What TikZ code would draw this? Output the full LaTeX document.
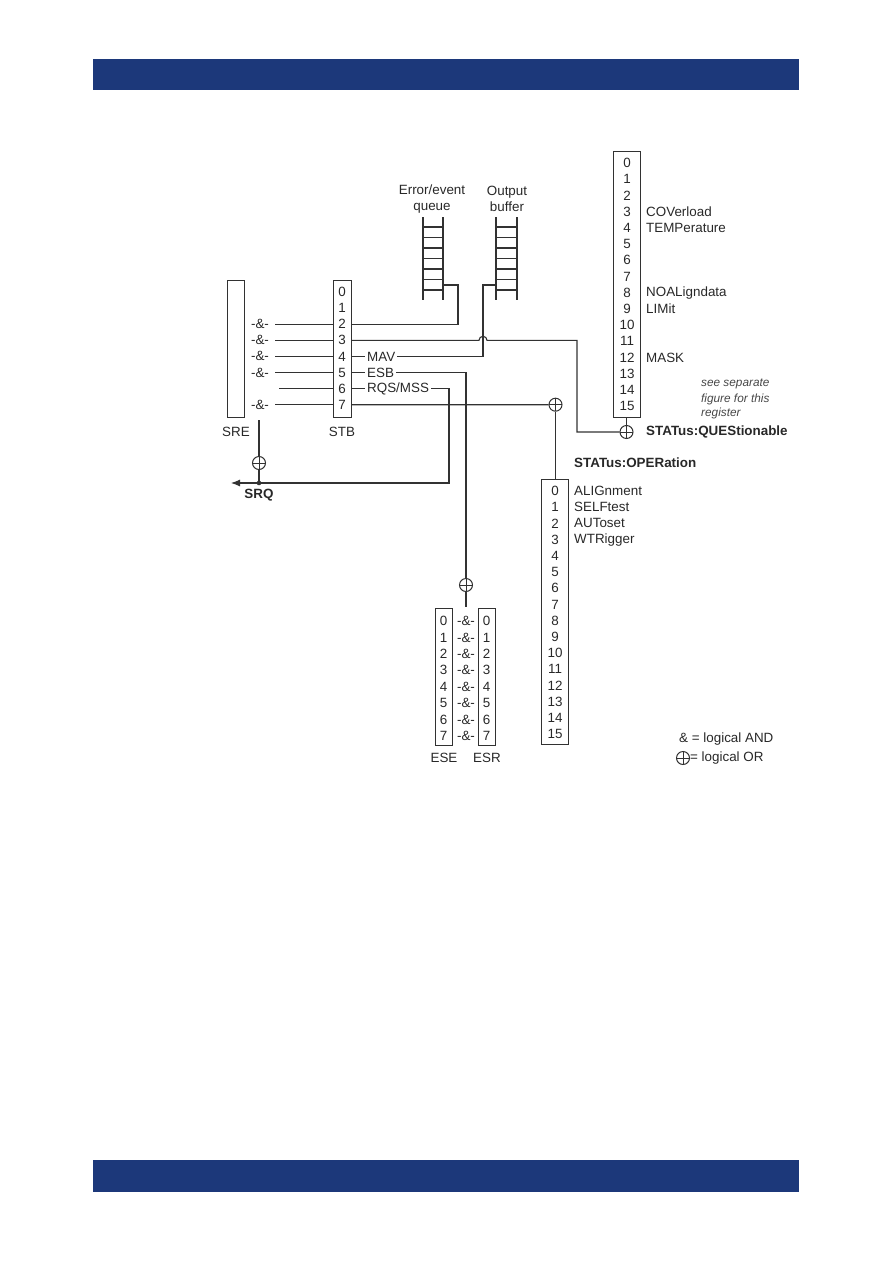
\documentclass[tikz,border=0pt]{standalone}
\usepackage{fontspec}
\setmainfont{Liberation Sans}
\usetikzlibrary{arrows.meta}
\definecolor{rsblue}{RGB}{28,56,122}
\definecolor{ln}{RGB}{50,50,50}
\definecolor{txt}{RGB}{40,40,40}
\definecolor{notec}{RGB}{70,70,70}
\tikzset{
  wire/.style={draw=ln, line width=1.1pt},
  regbox/.style={draw=ln, line width=1.1pt, inner sep=0pt, anchor=north west},
  lbl/.style={inner sep=0pt, text=txt, font=\fontsize{13.4}{16}\selectfont},
  tag/.style={lbl, inner xsep=2pt, anchor=west},
  bl/.style={lbl, font=\fontsize{13.4}{16}\selectfont\bfseries},
  note/.style={lbl, text=notec, anchor=west, font=\fontsize{11.8}{14}\selectfont\itshape},
  orgate/.style={circle, draw=ln, line width=1pt, minimum size=13pt, inner sep=0pt,
    path picture={\draw[ln, line width=0.9pt] (path picture bounding box.north) -- (path picture bounding box.south)
      (path picture bounding box.west) -- (path picture bounding box.east);}},
}
\begin{document}
\begin{tikzpicture}[x=1pt,y=-1pt]
\useasboundingbox (0,0) rectangle (893,1263);
% header and footer bars
\fill[rsblue] (93,59) rectangle (799,90);
\fill[rsblue] (93,1160) rectangle (799,1192);

% ---------- SRE and STB ----------
\node[regbox, minimum width=17pt, minimum height=137pt] (sre) at (227,280) {};
\node[regbox, minimum width=18pt, minimum height=137pt] (stb) at (333,280) {};
\node[lbl] (srelbl) at (236,432) {SRE};
\node[lbl] (stblbl) at (342,432) {STB};
\foreach \i in {0,...,7} {
  \node[lbl] (r\i) at (342,{292+16.1*\i}) {\i};
}
\foreach \i in {2,3,4,5,7} {
  \node[lbl] (and\i) at (260,{292+16.1*\i}) {-\&-};
  \coordinate (sl\i) at (275,{292+16.1*\i});
  \draw[wire] (sl\i) -- (stb.west |- sl\i);
}
\coordinate (sl6) at (279,{292+16.1*6});
\draw[wire] (sl6) -- (stb.west |- sl6);

% ---------- queues ----------
\node[lbl, align=center] (eqlbl) at (432,199) {Error/event\\queue};
\node[lbl, align=center] (oblbl) at (507,199) {Output\\buffer};
\foreach \xa/\xb in {423/443, 496/517} {
  \draw[wire] (\xa,217) -- (\xa,300) (\xb,217) -- (\xb,300);
  \foreach \k in {0,...,6} \draw[wire] (\xa,{227+10.5*\k}) -- (\xb,{227+10.5*\k});
}
\coordinate (eqc) at (443,285);
\coordinate (obc) at (496,285);
\coordinate (eqd) at (458,285);
\coordinate (obd) at (483,285);

% row 2 -> error queue
\draw[wire] (stb.east |- r2) -| (eqd) -- (eqc);
% row 4 MAV -> output buffer
\node[tag] (mav) at (365,{292+16.1*4}) {MAV};
\draw[wire] (stb.east |- r4) -- (mav.west);
\draw[wire] (mav.east) -| (obd) -- (obc);
% QUEStionable register
\node[regbox, minimum width=27pt, minimum height=266pt] (ques) at (613,151) {};
\foreach \i in {0,...,15} \node[lbl] (q\i) at (627,{163+16.2*\i}) {\i};
\node[lbl, anchor=west] (qc) at (646,{163+16.2*3}) {COVerload};
\node[lbl, anchor=west] (qt) at (646,{163+16.2*4}) {TEMPerature};
\node[lbl, anchor=west] (qn) at (646,{163+16.2*8}) {NOALigndata};
\node[lbl, anchor=west] (ql) at (646,{163+16.2*9}) {LIMit};
\node[lbl, anchor=west] (qm) at (646,{163+16.2*12}) {MASK};
\node[note] (n1) at (701,384) {see separate};
\node[note] (n2) at (701,399) {figure for this};
\node[note] (n3) at (701,413) {register};
\node[orgate] (qor) at (626.5,432) {};
\draw[wire] (ques.south -| qor) -- (qor.north);
\node[bl, anchor=west] (qlbl) at (646,432) {STATus:QUEStionable};
% row 3 -> QUEStionable (hop over MAV line)
\draw[wire] (stb.east |- r3) -- (479,340.3) arc (180:360:4) -- (577,340.3) |- (qor.west);

% row 5 ESB -> ESE/ESR
\node[tag] (esb) at (365,{292+16.1*5}) {ESB};
\draw[wire] (stb.east |- r5) -- (esb.west);
\node[orgate] (esbor) at (466,585) {};
\draw[wire] (esb.east) -| (esbor.north);
\coordinate (esetop) at (466,607);
\draw[wire] (esbor.south) -- (esetop);
\node[regbox, minimum width=17pt, minimum height=137pt] (ese) at (435,608) {};
\node[regbox, minimum width=17pt, minimum height=137pt] (esr) at (478,608) {};
\foreach \i in {0,...,7} {
  \node[lbl] (e\i) at (443.5,{621+16.43*\i}) {\i};
  \node[lbl] (a\i) at (466,{621+16.43*\i}) {-\&-};
  \node[lbl] (s\i) at (486.5,{621+16.43*\i}) {\i};
}
\node[lbl] (eselbl) at (444,758) {ESE};
\node[lbl] (esrlbl) at (487,758) {ESR};

% row 6 RQS/MSS -> SRQ
\node[tag] (rqs) at (365,{292+16.1*6}) {RQS/MSS};
\draw[wire] (stb.east |- r6) -- (rqs.west);
\node[orgate] (sreor) at (259,463) {};
\coordinate (srqdot) at (259,483);
\coordinate (srqend) at (231,483);
\coordinate (srqturn) at (449,483);
\coordinate (sreout) at (259,420);
\draw[wire] (sreout) -- (sreor.north);
\draw[wire] (sreor.south) -- (srqdot);
\draw[wire] (rqs.east) -| (srqturn) -- (srqdot);
\draw[wire, -{Latex[length=9pt,width=7pt]}] (srqdot) -- (srqend);
\fill[ln] (srqdot) circle (2.3pt);
\node[bl] (srq) at (259,495) {SRQ};

% row 7 -> OPERation
\node[orgate] (opor) at (555.5,404.7) {};
\draw[wire] (stb.east |- r7) -- (opor.west);
\node[regbox, minimum width=27pt, minimum height=265pt] (oper) at (541,479) {};
\draw[wire] (opor.south) -- (oper.north -| opor);
\node[bl, anchor=west] (olbl) at (574,463) {STATus:OPERation};
\foreach \i in {0,...,15} \node[lbl] (o\i) at (555,{491+16.2*\i}) {\i};
\node[lbl, anchor=west] (oa) at (574,{491+16.2*0}) {ALIGnment};
\node[lbl, anchor=west] (os) at (574,{491+16.2*1}) {SELFtest};
\node[lbl, anchor=west] (ou) at (574,{491+16.2*2}) {AUToset};
\node[lbl, anchor=west] (ow) at (574,{491+16.2*3}) {WTRigger};

% legend
\node[lbl, anchor=west] (leg1) at (679,739) {\& = logical AND};
\node[orgate] (legor) at (683,758) {};
\node[lbl, anchor=west] (leg2) at (690,758) {= logical OR};
\end{tikzpicture}
\end{document}
